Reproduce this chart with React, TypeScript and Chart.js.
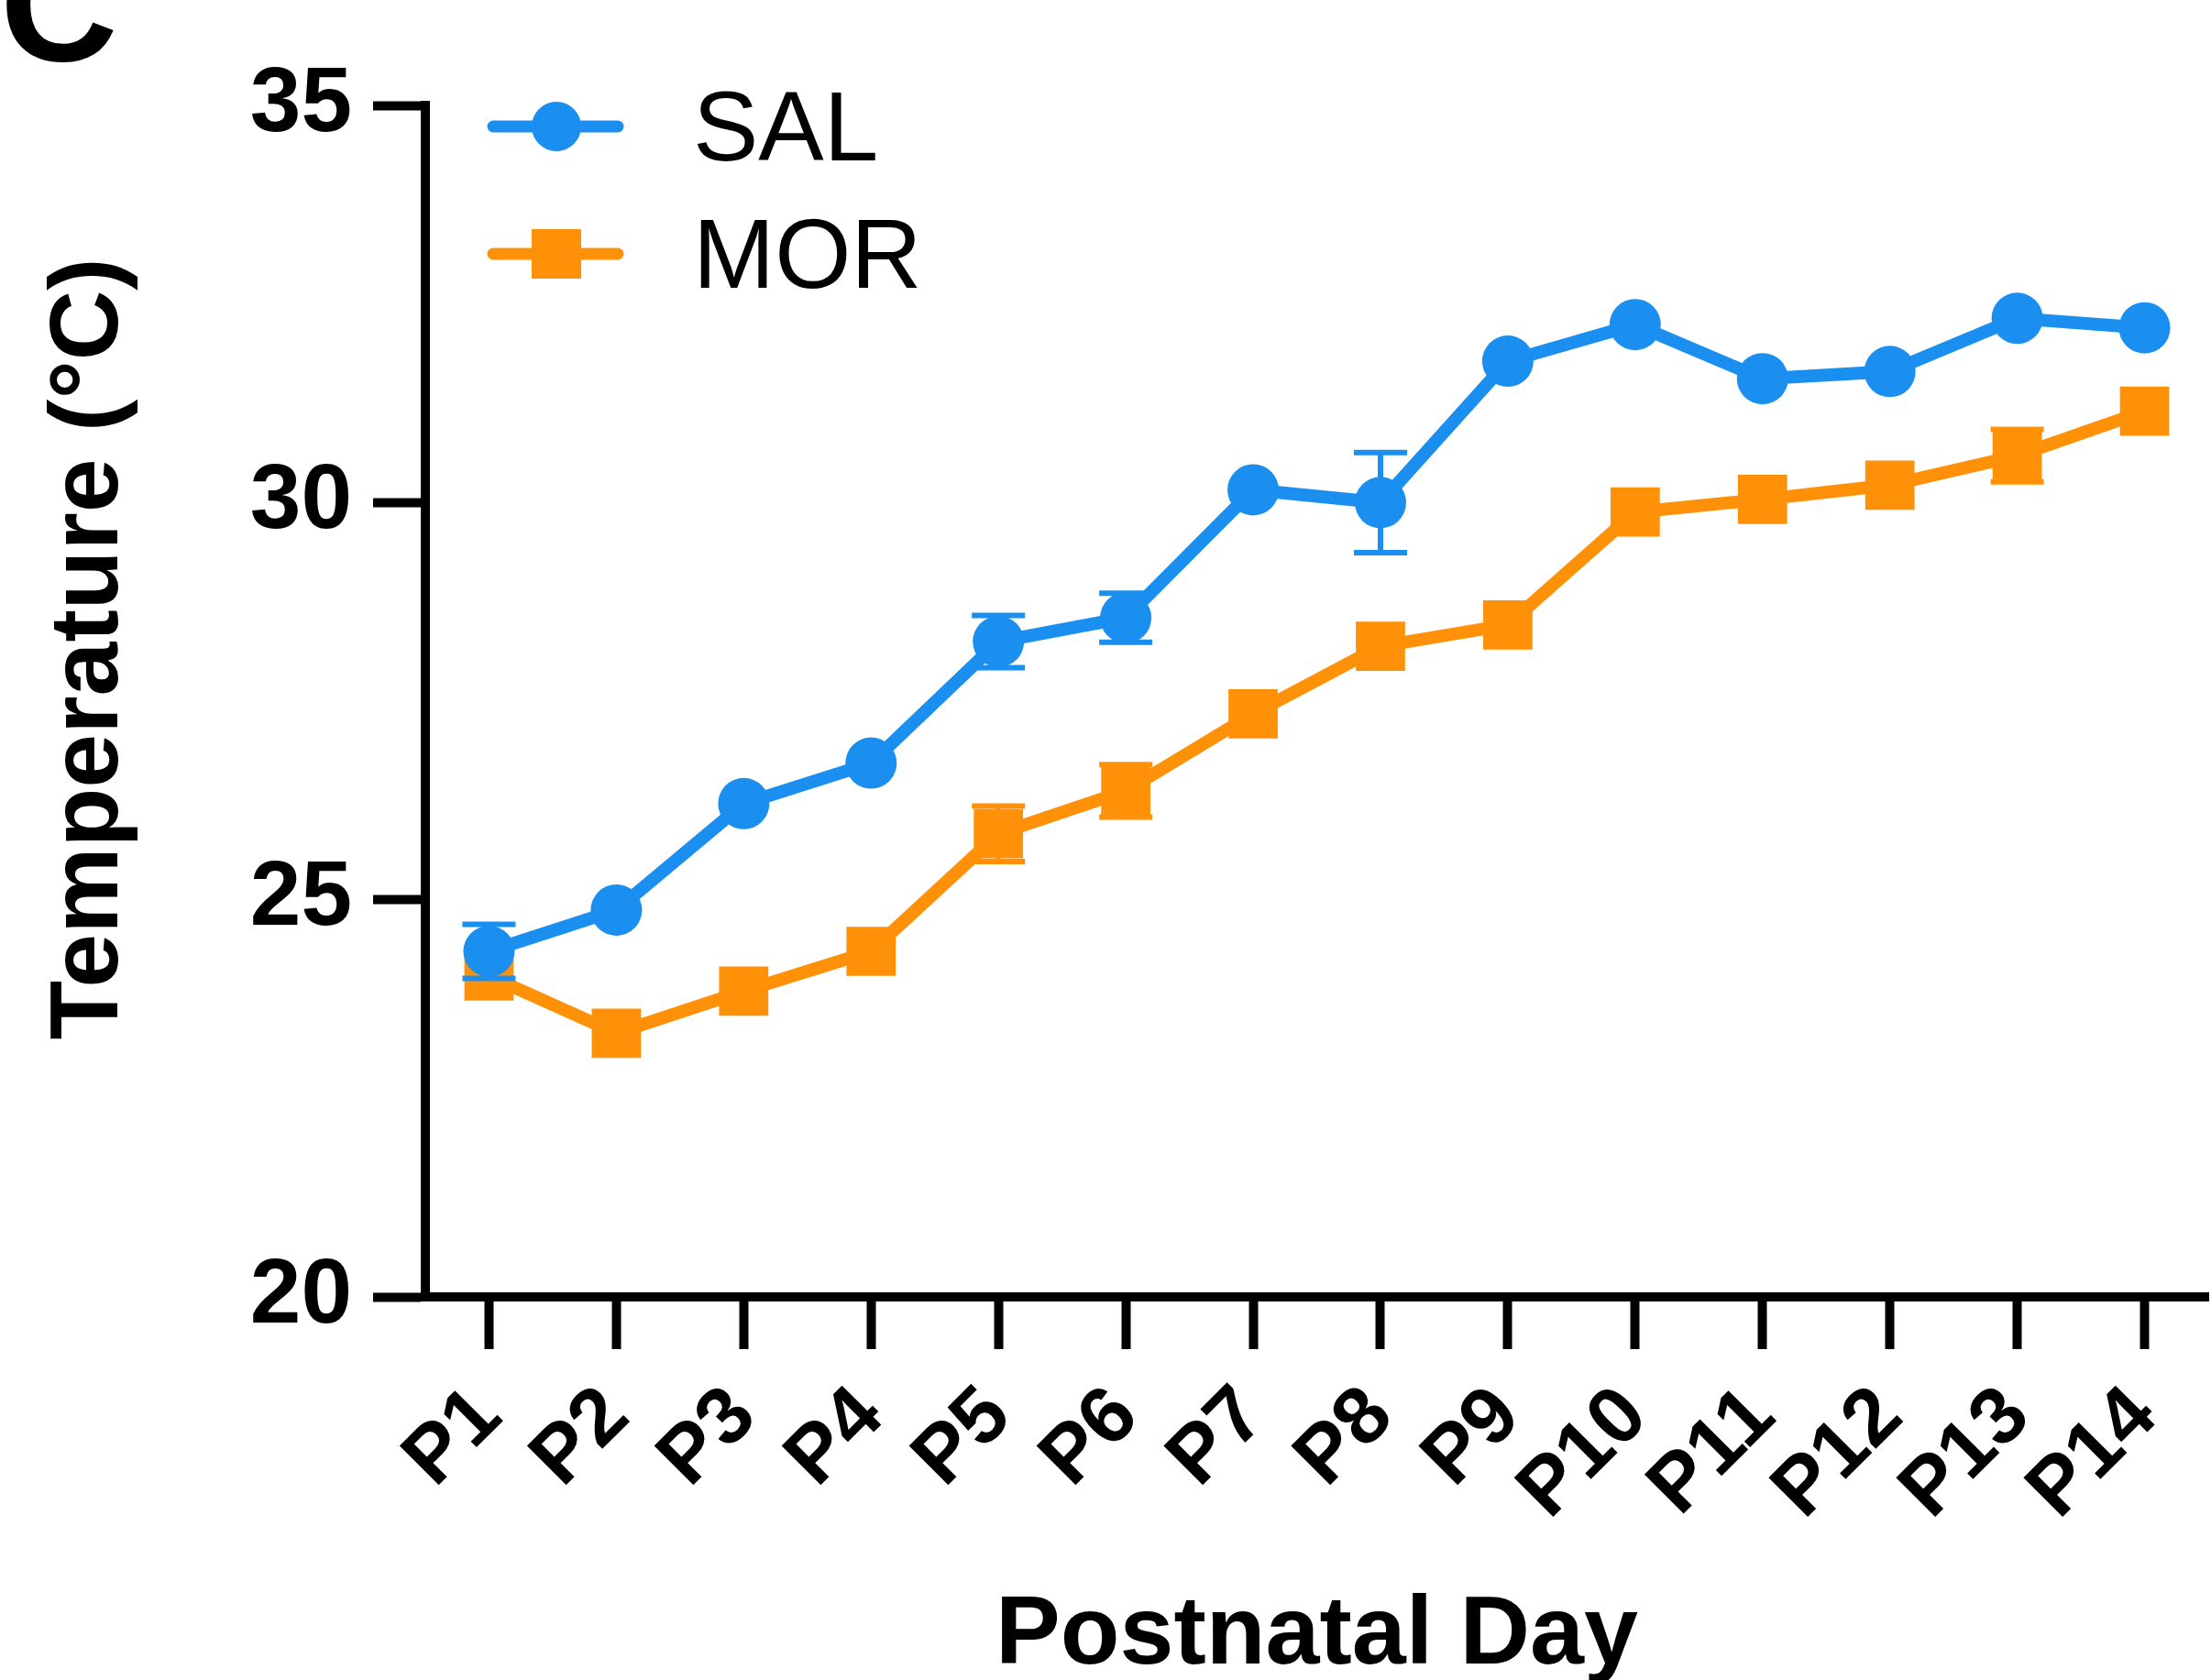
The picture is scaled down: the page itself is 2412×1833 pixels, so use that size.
import React, { useEffect, useRef } from "react";
import { Chart, registerables } from "chart.js";

Chart.register(...registerables);

// Postnatal days on the x axis
const DAYS = ["P1", "P2", "P3", "P4", "P5", "P6", "P7", "P8", "P9", "P10", "P11", "P12", "P13", "P14"];

// Saline group: mean body temperature (°C) and SEM
const SAL_MEAN = [24.35, 24.87, 26.21, 26.72, 28.25, 28.55, 30.16, 30.0, 31.78, 32.24, 31.56, 31.65, 32.32, 32.2];
const SAL_SEM = [0.34, 0.15, 0.15, 0.12, 0.33, 0.31, 0.12, 0.63, 0.15, 0.12, 0.15, 0.15, 0.15, 0.1];

// Morphine group: mean body temperature (°C) and SEM
const MOR_MEAN = [24.04, 23.32, 23.85, 24.35, 25.83, 26.37, 27.34, 28.19, 28.46, 29.88, 30.04, 30.22, 30.59, 31.15];
const MOR_SEM = [0.2, 0.2, 0.15, 0.2, 0.35, 0.33, 0.2, 0.15, 0.2, 0.15, 0.15, 0.15, 0.33, 0.2];

const Y_TICKS = [20, 25, 30, 35];

const SAL_COLOR = "#1B8FF0";
const MOR_COLOR = "#FF9108";
const FONT = "'Liberation Sans', Arial, Helvetica, sans-serif";

const W = 2412;
const H = 1833;
const PLOT_LEFT = 464;
const PLOT_TOP = 115;
const PLOT_BOTTOM = 1415;

// Mean ± SEM whiskers, painted just before each dataset so markers sit on top.
// Whiskers that stay inside the symbol are left out.
const errorBars = {
  id: "errorBars",
  beforeDatasetDraw(chart: any, args: any) {
    const ds = chart.data.datasets[args.index];
    const sem: number[] | undefined = ds.sem;
    if (!sem) return;
    const meta = chart.getDatasetMeta(args.index);
    const yScale = chart.scales.y;
    const ctx = chart.ctx;
    const half = ds.capHalfWidth;
    const hide = ds.hiddenWithin;
    ctx.save();
    ctx.strokeStyle = ds.borderColor;
    ctx.lineWidth = 6;
    meta.data.forEach((pt: any, i: number) => {
      const v = ds.data[i];
      const e = sem[i];
      const x = pt.x;
      const yMid = yScale.getPixelForValue(v);
      const yHi = yScale.getPixelForValue(v + e);
      const yLo = yScale.getPixelForValue(v - e);
      if (yMid - yHi <= hide) return;
      ctx.beginPath();
      ctx.moveTo(x, yHi);
      ctx.lineTo(x, yLo);
      ctx.moveTo(x - half, yHi);
      ctx.lineTo(x + half, yHi);
      ctx.moveTo(x - half, yLo);
      ctx.lineTo(x + half, yLo);
      ctx.stroke();
    });
    ctx.restore();
  },
};

// Panel letter, axis titles and the inset legend
const annotations = {
  id: "annotations",
  afterDraw(chart: any) {
    const ctx = chart.ctx;
    ctx.save();
    ctx.fillStyle = "#000";

    // panel letter
    ctx.font = `bold 178px ${FONT}`;
    ctx.textAlign = "left";
    ctx.textBaseline = "alphabetic";
    ctx.fillText("C", 0, 66);

    // y axis title
    ctx.save();
    ctx.translate(128, 708);
    ctx.rotate(-Math.PI / 2);
    ctx.font = `bold 106px ${FONT}`;
    ctx.textAlign = "center";
    ctx.textBaseline = "alphabetic";
    ctx.fillText("Temperature (°C)", 0, 0);
    ctx.restore();

    // x axis title
    ctx.font = `bold 106px ${FONT}`;
    ctx.textAlign = "center";
    ctx.textBaseline = "alphabetic";
    const area = chart.chartArea;
    ctx.fillText("Postnatal Day", (area.left + area.right) / 2, 1815);

    // legend
    const rows = chart.data.datasets.map((ds: any, i: number) => ({
      label: ds.label,
      color: ds.borderColor,
      style: ds.pointStyle,
      y: i === 0 ? 138 : 277,
    }));
    rows.forEach((r: any) => {
      ctx.strokeStyle = r.color;
      ctx.fillStyle = r.color;
      ctx.lineWidth = 13;
      ctx.lineCap = "round";
      ctx.beginPath();
      ctx.moveTo(538, r.y);
      ctx.lineTo(674, r.y);
      ctx.stroke();
      ctx.beginPath();
      if (r.style === "rect") {
        ctx.rect(607 - 27, r.y - 27, 54, 54);
      } else {
        ctx.arc(607, r.y, 27, 0, Math.PI * 2);
      }
      ctx.fill();
      ctx.fillStyle = "#000";
      ctx.font = `107px ${FONT}`;
      ctx.textAlign = "left";
      ctx.textBaseline = "alphabetic";
      ctx.fillText(r.label, 756, r.y + 37);
    });
    ctx.restore();
  },
};

const noPadding = () => ({ left: 0, top: 0, right: 0, bottom: 0 });

export default function App() {
  const canvasRef = useRef<HTMLCanvasElement | null>(null);

  useEffect(() => {
    const canvas = canvasRef.current;
    if (!canvas) return;

    const axisGrid = {
      display: true,
      drawOnChartArea: false,
      drawTicks: true,
      tickLength: 57,
      tickWidth: 10,
      tickColor: "#000",
      offset: false,
    };
    const axisBorder = { display: true, width: 10, color: "#000" };

    const chart = new Chart(canvas, {
      type: "line",
      data: {
        labels: DAYS,
        datasets: [
          {
            label: "SAL",
            data: SAL_MEAN,
            sem: SAL_SEM,
            capHalfWidth: 29,
            hiddenWithin: 22,
            borderColor: SAL_COLOR,
            backgroundColor: SAL_COLOR,
            borderWidth: 14,
            pointStyle: "circle",
            pointRadius: 28,
            pointBackgroundColor: SAL_COLOR,
            pointBorderWidth: 0,
            tension: 0,
            fill: false,
          } as any,
          {
            label: "MOR",
            data: MOR_MEAN,
            sem: MOR_SEM,
            capHalfWidth: 29,
            hiddenWithin: 22,
            borderColor: MOR_COLOR,
            backgroundColor: MOR_COLOR,
            borderWidth: 14,
            pointStyle: "rect",
            pointRadius: 38,
            pointBackgroundColor: MOR_COLOR,
            pointBorderWidth: 0,
            tension: 0,
            fill: false,
          } as any,
        ],
      },
      options: {
        responsive: false,
        animation: false,
        devicePixelRatio: 1,
        layout: { autoPadding: false, padding: { top: PLOT_TOP, right: 3, left: 0, bottom: 0 } },
        plugins: {
          legend: { display: false },
          tooltip: { enabled: false },
        },
        scales: {
          x: {
            type: "category",
            offset: true,
            grid: axisGrid,
            border: axisBorder,
            ticks: {
              color: "#000",
              font: { family: FONT, size: 88, weight: "bold" },
              minRotation: 45,
              maxRotation: 45,
              autoSkip: false,
              padding: 22,
            },
            afterFit: (s: any) => {
              s.height = H - PLOT_BOTTOM;
              s.paddingLeft = 0;
              s.paddingRight = 0;
              s.getPadding = noPadding;
            },
          },
          y: {
            type: "linear",
            min: 20,
            max: 35,
            grid: axisGrid,
            border: axisBorder,
            ticks: {
              color: "#000",
              font: { family: FONT, size: 100, weight: "bold" },
              padding: 23,
            },
            afterBuildTicks: (s: any) => {
              s.ticks = Y_TICKS.map((v) => ({ value: v }));
            },
            afterFit: (s: any) => {
              s.width = PLOT_LEFT;
              s.getPadding = noPadding;
            },
          },
        },
      } as any,
      plugins: [errorBars, annotations],
    });

    return () => chart.destroy();
  }, []);

  return (
    <div style={{ position: "absolute", left: 0, top: 0, width: W, height: H, background: "#fff" }}>
      <canvas ref={canvasRef} width={W} height={H} style={{ display: "block", width: W, height: H }} />
    </div>
  );
}
